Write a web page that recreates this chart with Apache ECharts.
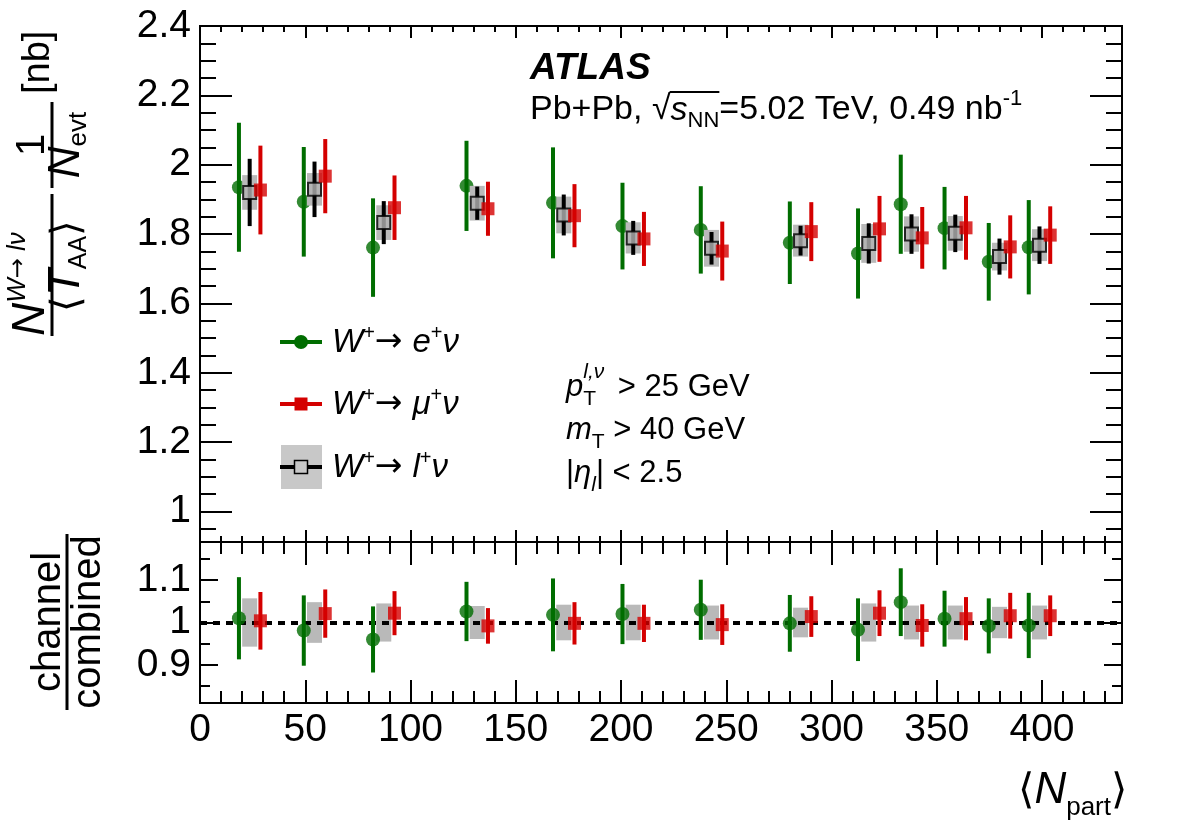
<!DOCTYPE html>
<html>
<head>
<meta charset="utf-8">
<script src="https://cdn.jsdelivr.net/npm/echarts@6/dist/echarts.min.js"></script>
<style>
  html, body { margin: 0; padding: 0; background: #fff; }
  #main { width: 1182px; height: 836px; }
</style>
</head>
<body>
<div id="main"></div>
<script>
// <Npart> of the combined points; e and mu are drawn shifted left / right
var NPART = [23.6, 54.4, 87.3, 131.7, 172.8, 205.8, 243.0, 285.3, 317.7, 338.0, 358.8, 379.8, 398.8];
var SHIFT = 5.1;

// upper pad: yield per <TAA> [nb]
var E_VAL = [1.935, 1.893, 1.761, 1.939, 1.890, 1.823, 1.812, 1.775, 1.744, 1.886, 1.817, 1.720, 1.762];
var E_ERR = [0.186, 0.158, 0.142, 0.130, 0.160, 0.125, 0.126, 0.119, 0.130, 0.143, 0.119, 0.112, 0.136];
var M_VAL = [1.927, 1.967, 1.876, 1.873, 1.853, 1.786, 1.751, 1.807, 1.815, 1.789, 1.818, 1.763, 1.797];
var M_ERR = [0.128, 0.107, 0.093, 0.078, 0.091, 0.078, 0.085, 0.085, 0.095, 0.089, 0.092, 0.091, 0.083];
var C_VAL = [1.920, 1.929, 1.833, 1.889, 1.855, 1.789, 1.759, 1.781, 1.773, 1.800, 1.802, 1.735, 1.768];
var C_STAT = [0.097, 0.080, 0.062, 0.048, 0.059, 0.049, 0.047, 0.043, 0.058, 0.057, 0.054, 0.052, 0.054];
var C_SYS = [0.050, 0.047, 0.050, 0.050, 0.053, 0.045, 0.053, 0.046, 0.056, 0.051, 0.050, 0.040, 0.046];

// lower pad: channel / combined
var E_RATIO = [1.010, 0.981, 0.960, 1.026, 1.018, 1.020, 1.030, 0.998, 0.983, 1.048, 1.009, 0.992, 0.993];
var E_RERR = [0.097, 0.083, 0.078, 0.070, 0.086, 0.071, 0.071, 0.067, 0.074, 0.080, 0.066, 0.065, 0.077];
var M_RATIO = [1.004, 1.021, 1.022, 0.992, 0.998, 0.998, 0.995, 1.014, 1.022, 0.993, 1.009, 1.016, 1.016];
var M_RERR = [0.068, 0.057, 0.052, 0.042, 0.050, 0.044, 0.048, 0.048, 0.054, 0.050, 0.051, 0.054, 0.048];
var C_RBAND = [0.057, 0.048, 0.045, 0.039, 0.042, 0.042, 0.040, 0.035, 0.045, 0.040, 0.040, 0.037, 0.040];

// axes
var X_RANGE = [0, 438];
var TOP_RANGE = [0.912, 2.4];
var BOT_RANGE = [0.81, 1.19];
var X_TICKS = [0, 50, 100, 150, 200, 250, 300, 350, 400];
var TOP_Y_TICKS = [1, 1.2, 1.4, 1.6, 1.8, 2, 2.2, 2.4];
var BOT_Y_TICKS = [0.9, 1, 1.1];
var BOT_Y_MINOR = [0.85, 0.95, 1.05, 1.15];

function steps(a, b, d) {
  var out = [];
  for (var v = a; v <= b + d / 2; v += d) out.push(Math.round(v * 1000) / 1000);
  return out;
}
var X_MINOR = steps(0, 430, 10);
var TOP_Y_MINOR = steps(0.95, 2.35, 0.05);

var FONT = "'Liberation Sans', Arial, Helvetica, sans-serif";
var ARROW_FONT = "'DejaVu Sans', sans-serif";
var GREEN = '#006d00', RED = '#d40000', GREY = '#b9b9b9';

var chart = echarts.init(document.getElementById('main'));

function xAx(grid, pos, ticks, len, labels) {
  return {
    type: 'value', gridIndex: grid, position: pos, min: X_RANGE[0], max: X_RANGE[1],
    axisLine: { show: true, onZero: false, lineStyle: { color: '#000', width: 2 } },
    axisTick: { show: true, inside: true, length: len, customValues: ticks, lineStyle: { color: '#000', width: 2 } },
    axisLabel: { show: labels, customValues: ticks, margin: 8, fontSize: 39, fontFamily: FONT, color: '#000' },
    splitLine: { show: false }
  };
}
function yAx(grid, pos, range, ticks, len, labels) {
  return {
    type: 'value', gridIndex: grid, position: pos, min: range[0], max: range[1],
    axisLine: { show: true, onZero: false, lineStyle: { color: '#000', width: 2 } },
    axisTick: { show: true, inside: true, length: len, customValues: ticks, lineStyle: { color: '#000', width: 2 } },
    axisLabel: { show: labels, customValues: ticks, margin: 9, fontSize: 39, fontFamily: FONT, color: '#000' },
    splitLine: { show: false }
  };
}

var xAxes = [
  xAx(0, 'bottom', X_TICKS, 12, false), xAx(0, 'bottom', X_MINOR, 6, false),
  xAx(0, 'top', X_TICKS, 12, false), xAx(0, 'top', X_MINOR, 6, false),
  xAx(1, 'bottom', X_TICKS, 23, true), xAx(1, 'bottom', X_MINOR, 12, false),
  xAx(1, 'top', X_TICKS, 23, false), xAx(1, 'top', X_MINOR, 12, false)
];
var yAxes = [
  yAx(0, 'left', TOP_RANGE, TOP_Y_TICKS, 32, true), yAx(0, 'left', TOP_RANGE, TOP_Y_MINOR, 16, false),
  yAx(0, 'right', TOP_RANGE, TOP_Y_TICKS, 32, false), yAx(0, 'right', TOP_RANGE, TOP_Y_MINOR, 16, false),
  yAx(1, 'left', BOT_RANGE, BOT_Y_TICKS, 18, true), yAx(1, 'left', BOT_RANGE, BOT_Y_MINOR, 10, false),
  yAx(1, 'right', BOT_RANGE, BOT_Y_TICKS, 18, false), yAx(1, 'right', BOT_RANGE, BOT_Y_MINOR, 10, false)
];

// vertical rectangle from lo to hi, fixed pixel width
function rectSeries(ax, data, w, color, z) {
  return {
    type: 'custom', xAxisIndex: ax, yAxisIndex: ax, z: z, silent: true,
    encode: { x: 0, y: [1, 2] }, data: data,
    renderItem: function (params, api) {
      var lo = api.coord([api.value(0), api.value(1)]);
      var hi = api.coord([api.value(0), api.value(2)]);
      return { type: 'rect', shape: { x: lo[0] - w / 2, y: hi[1], width: w, height: lo[1] - hi[1] }, style: { fill: color } };
    }
  };
}
function band(xs, v, e) {
  return xs.map(function (x, i) { return [x, v[i] - e[i], v[i] + e[i]]; });
}
function pts(xs, v) {
  return xs.map(function (x, i) { return [x, v[i]]; });
}

var xE = NPART.map(function (n) { return n - SHIFT; });
var xM = NPART.map(function (n) { return n + SHIFT; });
var ONES = NPART.map(function () { return 1; });

var series = [
  // upper pad
  rectSeries(0, band(xE, E_VAL, E_ERR), 4, GREEN, 2),
  { type: 'scatter', xAxisIndex: 0, yAxisIndex: 0, z: 3, silent: true, symbol: 'circle', symbolSize: 14,
    itemStyle: { color: GREEN }, data: pts(xE, E_VAL) },
  rectSeries(0, band(NPART, C_VAL, C_SYS), 15, GREY, 4),
  rectSeries(0, band(NPART, C_VAL, C_STAT), 4, '#000', 5),
  { type: 'scatter', xAxisIndex: 0, yAxisIndex: 0, z: 6, silent: true, symbol: 'rect', symbolSize: 13,
    itemStyle: { color: '#b3b3b3', borderColor: '#000', borderWidth: 2 }, data: pts(NPART, C_VAL) },
  rectSeries(0, band(xM, M_VAL, M_ERR), 4, RED, 7),
  { type: 'scatter', xAxisIndex: 0, yAxisIndex: 0, z: 8, silent: true, symbol: 'rect', symbolSize: 13,
    itemStyle: { color: RED }, data: pts(xM, M_VAL) },
  // lower pad
  Object.assign(rectSeries(4, band(NPART, ONES, C_RBAND), 15, GREY, 2), {
    markLine: { silent: true, symbol: ['none', 'none'], animation: false, label: { show: false },
      lineStyle: { color: '#000', width: 4, type: [7, 6] }, data: [{ yAxis: 1 }] }
  }),
  rectSeries(4, band(xE, E_RATIO, E_RERR), 4, GREEN, 6),
  { type: 'scatter', xAxisIndex: 4, yAxisIndex: 4, z: 7, silent: true, symbol: 'circle', symbolSize: 14,
    itemStyle: { color: GREEN }, data: pts(xE, E_RATIO) },
  rectSeries(4, band(xM, M_RATIO, M_RERR), 4, RED, 8),
  { type: 'scatter', xAxisIndex: 4, yAxisIndex: 4, z: 9, silent: true, symbol: 'rect', symbolSize: 13,
    itemStyle: { color: RED }, data: pts(xM, M_RATIO) }
];

// ---- text pieces laid out left to right (sub/superscripts) ----
var mctx = document.createElement('canvas').getContext('2d');
function pw(p) {
  if (p.w != null) return p.w;
  mctx.font = (p.it ? 'italic ' : '') + (p.bold ? 'bold ' : '') + p.s + 'px ' + (p.f || FONT);
  return mctx.measureText(p.t).width;
}
function seq(x0, base, parts) {
  var els = [], xs = [], x = x0;
  parts.forEach(function (p) {
    xs.push(x);
    els.push({ type: 'text', x: x, y: base + (p.dy || 0) - 0.35 * p.s, silent: true,
      style: { text: p.t, fontSize: p.s, fontStyle: p.it ? 'italic' : 'normal', fontWeight: p.bold ? 'bold' : 'normal',
        fontFamily: p.f || FONT, fill: '#000', align: 'left', verticalAlign: 'middle' } });
    x += pw(p) + (p.gap || 0);
  });
  xs.push(x);
  return { els: els, xs: xs };
}
function seqW(parts) {
  return parts.reduce(function (a, p) { return a + pw(p) + (p.gap || 0); }, 0);
}
function seqC(cx, base, parts) { return seq(cx - seqW(parts) / 2, base, parts); }
function seqR(rx, base, parts) { return seq(rx - seqW(parts), base, parts); }
function hline(x1, y1, x2, y2, w, c) {
  return { type: 'line', silent: true, shape: { x1: x1, y1: y1, x2: x2, y2: y2 }, style: { stroke: c || '#000', lineWidth: w } };
}

var g = [];
// y title, upper pad (rotated)
var yt = [];
yt = yt.concat(seq(4, 47, [{ t: 'N', s: 46, it: 1 }, { t: 'W', s: 26, it: 1, dy: -20 }, { t: '\u2192', s: 24, dy: -20, f: ARROW_FONT },
  { t: ' l', s: 26, it: 1, dy: -20 }, { t: '\u03bd', s: 26, it: 1, dy: -20 }]).els);
yt.push(hline(4, 52, 146, 52, 3));
yt = yt.concat(seqC(74, 82, [{ t: '\u27e8', s: 40 }, { t: 'T', s: 44, it: 1 }, { t: 'AA', s: 25, dy: 6 }, { t: '\u27e9', s: 40 }]).els);
yt.push(hline(152, 52, 238, 52, 3));
yt = yt.concat(seqC(195, 47, [{ t: '1', s: 40 }]).els);
yt = yt.concat(seqC(195, 82, [{ t: 'N', s: 44, it: 1 }, { t: 'evt', s: 26, dy: 6 }]).els);
yt = yt.concat(seq(246, 52, [{ t: '[nb]', s: 38 }]).els);
g.push({ type: 'group', x: 0, y: 340, rotation: Math.PI / 2, children: yt });

// y title, lower pad (rotated)
var yb = [];
yb = yb.concat(seqC(0, 63, [{ t: 'channel', s: 40 }]).els);
yb.push(hline(-88, 67, 88, 67, 3));
yb = yb.concat(seqC(0, 103, [{ t: 'combined', s: 40 }]).els);
g.push({ type: 'group', x: 0, y: 622, rotation: Math.PI / 2, children: yb });

// x title
g = g.concat(seqR(1127, 806, [{ t: '\u27e8', s: 42 }, { t: 'N', s: 44, it: 1 }, { t: 'part', s: 26, dy: 11 }, { t: '\u27e9', s: 42 }]).els);

// ATLAS label
g = g.concat(seq(530, 82, [{ t: 'ATLAS', s: 37, it: 1, bold: 1 }]).els);
var pb = seq(530, 122, [{ t: 'Pb+Pb, ', s: 34 }, { t: '\u221a', s: 34 }, { t: 's', s: 34, it: 1 }, { t: 'NN', s: 22, dy: 7 },
  { t: '=5.02 TeV, 0.49 nb', s: 34 }, { t: '-1', s: 22, dy: -15 }]);
g = g.concat(pb.els);
g.push(hline(pb.xs[2] - 1, 92, pb.xs[4], 92, 2));

// legend
var LEG = [
  { y: 342, lep: 'e', kind: 'e' },
  { y: 404, lep: '\u03bc', kind: 'm' },
  { y: 467, lep: 'l', kind: 'c' }
];
LEG.forEach(function (r) {
  if (r.kind === 'c') {
    g.push({ type: 'rect', silent: true, shape: { x: 281, y: r.y - 22, width: 41, height: 44 }, style: { fill: '#c8c8c8' } });
    g.push(hline(280, r.y, 322, r.y, 4, '#000'));
    g.push({ type: 'rect', silent: true, shape: { x: 294.5, y: r.y - 6.5, width: 13, height: 13 }, style: { fill: '#c8c8c8', stroke: '#000', lineWidth: 1.5 } });
  } else {
    var c = r.kind === 'e' ? GREEN : RED;
    g.push(hline(280, r.y, 322, r.y, 4, c));
    if (r.kind === 'e') g.push({ type: 'circle', silent: true, shape: { cx: 301, cy: r.y, r: 7 }, style: { fill: c } });
    else g.push({ type: 'rect', silent: true, shape: { x: 294.5, y: r.y - 6.5, width: 13, height: 13 }, style: { fill: c } });
  }
  g = g.concat(seq(332, r.y + 12, [{ t: 'W', s: 33, it: 1 }, { t: '+', s: 20, dy: -14 }, { t: '\u2192', s: 33, f: ARROW_FONT, gap: 10 },
    { t: r.lep, s: 33, it: 1 }, { t: '+', s: 20, dy: -14 }, { t: '\u03bd', s: 33, it: 1 }]).els);
});

// selection cuts
g = g.concat(seq(566, 398, [{ t: 'p', s: 31, it: 1 }, { t: 'l,\u03bd', s: 21, it: 1, dy: -18, w: 0 }, { t: 'T', s: 21, dy: 9, w: 26 },
  { t: ' > 25 GeV', s: 31 }]).els);
g = g.concat(seq(566, 441, [{ t: 'm', s: 31, it: 1 }, { t: 'T', s: 21, dy: 9 }, { t: ' > 40 GeV', s: 31 }]).els);
g = g.concat(seq(566, 484, [{ t: '|', s: 31 }, { t: '\u03b7', s: 31, it: 1 }, { t: 'l', s: 21, it: 1, dy: 9 }, { t: '|', s: 31 },
  { t: ' < 2.5', s: 31 }]).els);

chart.setOption({
  animation: false,
  backgroundColor: '#fff',
  grid: [
    { left: 200, width: 922, top: 26, height: 516 },
    { left: 200, width: 922, top: 542, height: 161 }
  ],
  xAxis: xAxes,
  yAxis: yAxes,
  series: series,
  graphic: { elements: g }
});
</script>
</body>
</html>
